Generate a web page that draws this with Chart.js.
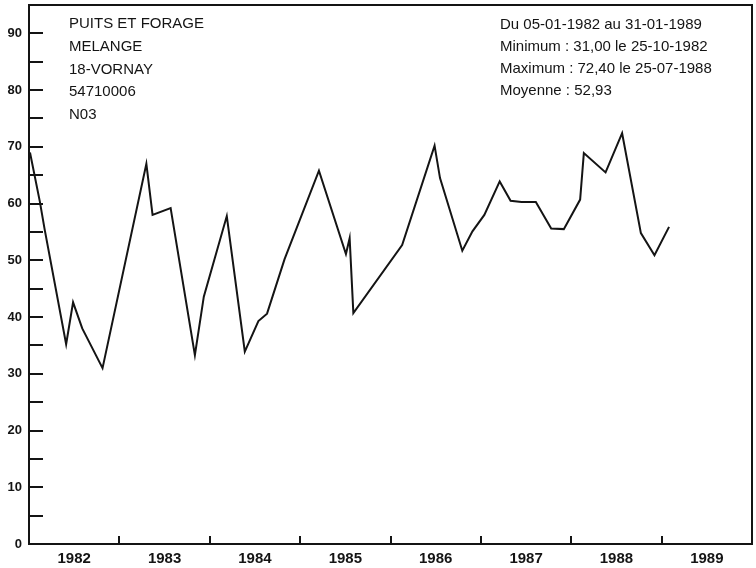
<!DOCTYPE html>
<html>
<head>
<meta charset="utf-8">
<script src="https://cdn.jsdelivr.net/npm/chart.js@4.4.0/dist/chart.umd.min.js"></script>
<style>
html, body { margin: 0; padding: 0; background: #fff; }
</style>
</head>
<body>
<canvas id="nitrates" width="756" height="568"></canvas>
<script>
// sampling dates and NO3 values (mg/l)
var dates = [
    '1982-01-05', '1982-02-14', '1982-03-05', '1982-05-31', '1982-06-28', '1982-08-04', '1982-10-25',
    '1983-04-20', '1983-05-15', '1983-07-27', '1983-11-02', '1983-12-08',
    '1984-03-10', '1984-05-22', '1984-07-16', '1984-08-20', '1984-10-30',
    '1985-03-18', '1985-07-05', '1985-07-20', '1985-08-04',
    '1986-02-17', '1986-06-28', '1986-07-20', '1986-10-18', '1986-11-28',
    '1987-01-15', '1987-03-18', '1987-05-01', '1987-06-14', '1987-08-11', '1987-10-12', '1987-12-02',
    '1988-02-06', '1988-02-21', '1988-05-19', '1988-07-25', '1988-10-09', '1988-12-03',
    '1989-01-31'
];
var values = [
    69.0, 60.3, 55.5, 35.2, 42.6, 38.0, 31.0,
    67.0, 58.0, 59.2, 33.3, 43.6,
    57.8, 33.9, 39.3, 40.6, 50.2,
    65.8, 51.1, 53.9, 40.7,
    52.7, 70.2, 64.5, 51.7, 55.1,
    58.0, 63.9, 60.5, 60.3, 60.3, 55.6, 55.5,
    60.7, 68.9, 65.5, 72.4, 54.8, 50.9,
    55.9
];
var years = [1982, 1983, 1984, 1985, 1986, 1987, 1988, 1989];
var headerLeft = ['PUITS ET FORAGE', 'MELANGE', '18-VORNAY', '54710006', 'N03'];
var headerRight = ['Du 05-01-1982 au 31-01-1989', 'Minimum : 31,00 le 25-10-1982', 'Maximum : 72,40 le 25-07-1988', 'Moyenne : 52,93'];

var ink = '#141414';
var fontFamily = "'Liberation Sans', Arial, sans-serif";

function toYear(s) {
    var p = s.split('-');
    var y = +p[0];
    var start = Date.UTC(y, 0, 1);
    var end = Date.UTC(y + 1, 0, 1);
    return y + (Date.UTC(y, +p[1] - 1, +p[2]) - start) / (end - start);
}

var points = dates.map(function(d, i) {
    return { x: toYear(d), y: values[i] };
});

// year boundaries get a tick mark, mid-years carry the label
var xTickValues = [];
years.forEach(function(y) {
    xTickValues.push(y);
    xTickValues.push(y + 0.5);
});
xTickValues.push(years[years.length - 1] + 1);

function noPadding(scale) {
    scale.paddingTop = 0;
    scale.paddingBottom = 0;
    scale.paddingLeft = 0;
    scale.paddingRight = 0;
}

var framePlugin = {
    id: 'frame',
    afterDraw: function(chart) {
        var ctx = chart.ctx;
        var a = chart.chartArea;
        ctx.save();
        ctx.strokeStyle = ink;
        ctx.lineWidth = 2;
        ctx.strokeRect(a.left, a.top, a.right - a.left, a.bottom - a.top);
        ctx.fillStyle = ink;
        ctx.font = '15px ' + fontFamily;
        ctx.textBaseline = 'middle';
        ctx.textAlign = 'left';
        for (var i = 0; i < headerLeft.length; i++) {
            ctx.fillText(headerLeft[i], a.left + 40, a.top + 19 + i * 22.7);
        }
        for (var j = 0; j < headerRight.length; j++) {
            ctx.fillText(headerRight[j], a.right - 252, a.top + 20 + j * 21.8);
        }
        ctx.restore();
    }
};

new Chart(document.getElementById('nitrates').getContext('2d'), {
    type: 'line',
    data: {
        datasets: [{
            data: points,
            borderColor: ink,
            borderWidth: 2,
            pointRadius: 0,
            tension: 0,
            fill: false
        }]
    },
    options: {
        responsive: false,
        animation: false,
        layout: { padding: { top: 5, right: 4, left: 0, bottom: 0 } },
        plugins: {
            legend: { display: false },
            tooltip: { enabled: false }
        },
        scales: {
            x: {
                type: 'linear',
                min: 1982,
                max: 1990,
                afterBuildTicks: function(scale) {
                    scale.ticks = xTickValues.map(function(v) { return { value: v }; });
                },
                afterFit: function(scale) {
                    scale.height = 24;
                    noPadding(scale);
                },
                grid: {
                    drawOnChartArea: false,
                    tickLength: -8,
                    lineWidth: 2,
                    tickColor: function(c) {
                        return c.tick && Number.isInteger(c.tick.value) ? ink : 'rgba(0,0,0,0)';
                    }
                },
                border: { display: true, width: 2, color: ink },
                ticks: {
                    autoSkip: false,
                    maxRotation: 0,
                    padding: 14,
                    color: ink,
                    font: { family: fontFamily, size: 15, weight: 'bold' },
                    callback: function(v) {
                        return Number.isInteger(v) ? '' : String(Math.floor(v));
                    }
                }
            },
            y: {
                min: 0,
                max: 95,
                afterFit: function(scale) {
                    scale.width = 29;
                    noPadding(scale);
                },
                grid: {
                    drawOnChartArea: false,
                    tickLength: -14,
                    lineWidth: 2,
                    tickColor: ink
                },
                border: { display: true, width: 2, color: ink },
                ticks: {
                    stepSize: 5,
                    padding: 21,
                    color: ink,
                    font: { family: fontFamily, size: 13, weight: 'bold' },
                    callback: function(v) {
                        return v % 10 === 0 ? String(v) : '';
                    }
                }
            }
        }
    },
    plugins: [framePlugin]
});
</script>
</body>
</html>
